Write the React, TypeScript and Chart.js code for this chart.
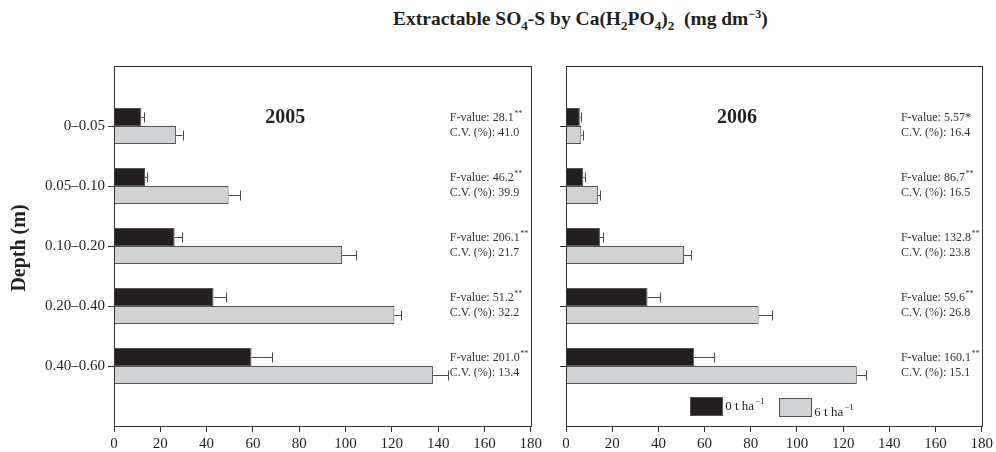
import React, { useEffect, useRef } from 'react';
import { Chart, registerables } from 'chart.js';

Chart.register(...registerables);

// ---------------- DATA ----------------
const categories = ['0\u20130.05', '0.05\u20130.10', '0.10\u20130.20', '0.20\u20130.40', '0.40\u20130.60'];
const xTicks = [0, 20, 40, 60, 80, 100, 120, 140, 160, 180];

const y2005_0t = [11.8, 13.4, 26.2, 43.0, 59.4];
const err2005_0t = [1.1, 0.7, 3.3, 5.5, 8.8];
const y2005_6t = [26.8, 49.5, 98.5, 121.1, 137.8];
const err2005_6t = [2.8, 4.9, 6.1, 2.9, 6.5];

const y2006_0t = [6.0, 7.5, 14.7, 35.3, 55.5];
const err2006_0t = [0.3, 0.6, 1.3, 5.6, 8.6];
const y2006_6t = [6.6, 13.9, 51.1, 83.4, 125.9];
const err2006_6t = [0.6, 0.9, 3.2, 5.9, 4.1];

const fValue2005 = ['28.1', '46.2', '206.1', '51.2', '201.0'];
const fSig2005 = ['**', '**', '**', '**', '**'];
const cv2005 = ['41.0', '39.9', '21.7', '32.2', '13.4'];

const fValue2006 = ['5.57*', '86.7', '132.8', '59.6', '160.1'];
const fSig2006 = ['', '**', '**', '**', '**'];
const cv2006 = ['16.4', '16.5', '23.8', '26.8', '15.1'];

const legendLabels = ['0 t ha', '6 t ha'];
const legendSup = '\u22121';

// ---------------- STYLE ----------------
const SERIF = "'Liberation Serif', 'Times New Roman', serif";
const BLACK = '#231f20';
const GRAY = '#d1d2d4';
const EDGE = '#555555';
const AXIS = '#333333';
const TEXT = '#231f20';

type PanelOpts = {
  year: string;
  zero: number[];
  zeroErr: number[];
  six: number[];
  sixErr: number[];
  fv: string[];
  fs: string[];
  cv: string[];
  showYLabels: boolean;
  showLegend: boolean;
  yAxisWidth: number;
  padRight: number;
};

const panelPlugin = {
  id: 'panelDeco',
  afterDatasetsDraw(chart: any, _args: any, o: any) {
    const ctx = chart.ctx as CanvasRenderingContext2D;
    const xs = chart.scales.x;
    const ys = chart.scales.y;
    const a = chart.chartArea;
    ctx.save();
    // error bars
    chart.data.datasets.forEach((ds: any, di: number) => {
      const meta = chart.getDatasetMeta(di);
      meta.data.forEach((bar: any, i: number) => {
        const v = ds.data[i].x;
        const e = ds.errors[i];
        const x0 = xs.getPixelForValue(v);
        const x1 = xs.getPixelForValue(v + e);
        const y = Math.round(bar.y) + 0.5;
        ctx.strokeStyle = '#4a4a4a';
        ctx.lineWidth = 1;
        ctx.beginPath();
        ctx.moveTo(x0, y);
        ctx.lineTo(x1, y);
        ctx.moveTo(Math.round(x1) + 0.5, y - 5);
        ctx.lineTo(Math.round(x1) + 0.5, y + 5);
        ctx.stroke();
      });
    });
    // box
    ctx.strokeStyle = AXIS;
    ctx.lineWidth = 1;
    ctx.strokeRect(Math.round(a.left) + 0.5, Math.round(a.top) + 0.5, Math.round(a.right - a.left), Math.round(a.bottom - a.top));

    // year
    ctx.fillStyle = TEXT;
    ctx.font = `bold 20px ${SERIF}`;
    ctx.textAlign = 'center';
    ctx.textBaseline = 'middle';
    ctx.fillText(o.year, xs.getPixelForValue(74), ys.getPixelForValue(0) - 8);

    // annotations
    ctx.textAlign = 'left';
    const ax = xs.getPixelForValue(145);
    o.fv.forEach((f: string, i: number) => {
      const yc = ys.getPixelForValue(i);
      ctx.font = `12px ${SERIF}`;
      ctx.fillStyle = '#333';
      const t1 = 'F-value: ' + f;
      ctx.fillText(t1, ax, yc - 8);
      if (o.fs[i]) {
        const w = ctx.measureText(t1).width;
        ctx.font = `8px ${SERIF}`;
        ctx.fillText(o.fs[i], ax + w + 0.5, yc - 12);
      }
      ctx.font = `12px ${SERIF}`;
      ctx.fillText('C.V. (%): ' + o.cv[i], ax, yc + 7);
    });

    // depth label
    if (o.showYLabels) {
      ctx.save();
      ctx.translate(20, 248);
      ctx.rotate(-Math.PI / 2);
      ctx.font = `bold 20px ${SERIF}`;
      ctx.fillStyle = TEXT;
      ctx.textAlign = 'center';
      ctx.textBaseline = 'middle';
      ctx.fillText('Depth (m)', 0, 0);
      ctx.restore();
    }

    // legend
    if (o.showLegend) {
      const boxes = [
        { x0: 53.8, x1: 67.4, y0: 4.51, y1: 4.82, fill: BLACK, tx: 68.9, ty: 4.68 },
        { x0: 92.1, x1: 106.0, y0: 4.54, y1: 4.83, fill: GRAY, tx: 107.5, ty: 4.77 },
      ];
      boxes.forEach((b, i) => {
        const px0 = Math.round(xs.getPixelForValue(b.x0)) + 0.5;
        const px1 = Math.round(xs.getPixelForValue(b.x1)) + 0.5;
        const py0 = Math.round(ys.getPixelForValue(b.y0)) + 0.5;
        const py1 = Math.round(ys.getPixelForValue(b.y1)) + 0.5;
        ctx.fillStyle = b.fill;
        ctx.fillRect(px0, py0, px1 - px0, py1 - py0);
        ctx.strokeStyle = EDGE;
        ctx.strokeRect(px0, py0, px1 - px0, py1 - py0);
        ctx.fillStyle = TEXT;
        ctx.font = `13px ${SERIF}`;
        ctx.textAlign = 'left';
        ctx.textBaseline = 'middle';
        const tx = xs.getPixelForValue(b.tx);
        const ty = ys.getPixelForValue(b.ty);
        ctx.fillText(legendLabels[i], tx, ty);
        const w = ctx.measureText(legendLabels[i]).width;
        ctx.font = `9px ${SERIF}`;
        ctx.fillText(legendSup, tx + w + 1, ty - 5);
      });
    }
    ctx.restore();
  },
};

function buildChart(canvas: HTMLCanvasElement, o: PanelOpts) {
  const toPts = (arr: number[]) => arr.map((v, i) => ({ x: v, y: i }));
  return new Chart(canvas, {
    type: 'bar',
    data: {
      datasets: [
        {
          label: '0 t ha-1',
          data: toPts(o.zero),
          errors: o.zeroErr,
          backgroundColor: BLACK,
          borderColor: EDGE,
          borderWidth: 1,
          categoryPercentage: 0.6,
          barPercentage: 1,
        } as any,
        {
          label: '6 t ha-1',
          data: toPts(o.six),
          errors: o.sixErr,
          backgroundColor: GRAY,
          borderColor: EDGE,
          borderWidth: 1,
          categoryPercentage: 0.6,
          barPercentage: 1,
        } as any,
      ],
    },
    options: {
      indexAxis: 'y',
      responsive: false,
      animation: false,
      layout: { padding: { top: 66, right: o.padRight, left: 0, bottom: 0 } },
      plugins: {
        legend: { display: false },
        tooltip: { enabled: false },
        panelDeco: o,
      } as any,
      scales: {
        x: {
          type: 'linear',
          min: 0,
          max: 180,
          afterBuildTicks: (s: any) => {
            s.ticks = xTicks.map((v) => ({ value: v }));
          },
          afterFit: (s: any) => {
            s.height = 26;
          },
          ticks: {
            font: { family: SERIF, size: 15 },
            color: TEXT,
            padding: 3,
            maxRotation: 0,
            callback: (v: any) => String(v),
          },
          grid: { drawOnChartArea: false, drawTicks: true, tickLength: 6, color: AXIS, offset: false },
          border: { display: true, color: AXIS },
        },
        y: {
          type: 'linear',
          min: -1,
          max: 5,
          reverse: true,
          offset: false,
          afterBuildTicks: (s: any) => {
            s.ticks = categories.map((_, i) => ({ value: i }));
          },
          afterFit: (s: any) => {
            s.width = o.yAxisWidth;
          },
          ticks: {
            display: o.showYLabels,
            font: { family: SERIF, size: 15 },
            color: TEXT,
            padding: 3,
            callback: (v: any) => categories[v] ?? '',
          },
          grid: { drawOnChartArea: false, drawTicks: true, tickLength: 6, color: AXIS, offset: false },
          border: { display: true, color: AXIS },
        },
      },
    } as any,
    plugins: [panelPlugin],
  });
}

function Panel({ left, width, opts }: { left: number; width: number; opts: PanelOpts }) {
  const ref = useRef<HTMLCanvasElement | null>(null);
  useEffect(() => {
    if (!ref.current) return;
    const c = buildChart(ref.current, opts);
    return () => c.destroy();
  }, []);
  return (
    <canvas
      ref={ref}
      width={width}
      height={452}
      style={{ position: 'absolute', left, top: 0, width, height: 452 }}
    />
  );
}

export default function App() {
  const sub = { fontSize: 13, verticalAlign: 'sub', lineHeight: 0 } as React.CSSProperties;
  const sup = { fontSize: 12, verticalAlign: 'super', lineHeight: 0 } as React.CSSProperties;
  return (
    <div style={{ position: 'absolute', left: 0, top: 0, width: 996, height: 452, background: '#fff', overflow: 'hidden' }}>
      <div
        style={{
          position: 'absolute',
          left: 393,
          top: 8,
          fontFamily: SERIF,
          fontWeight: 'bold',
          fontSize: 19.5,
          color: TEXT,
          whiteSpace: 'pre',
          lineHeight: '22px',
        }}
      >
        Extractable SO<span style={sub}>4</span>-S by Ca(H<span style={sub}>2</span>PO<span style={sub}>4</span>)
        <span style={sub}>2</span>{'  '}(mg dm<span style={sup}>{'\u22123'}</span>)
      </div>
      <Panel
        left={0}
        width={545}
        opts={{
          year: '2005',
          zero: y2005_0t,
          zeroErr: err2005_0t,
          six: y2005_6t,
          sixErr: err2005_6t,
          fv: fValue2005,
          fs: fSig2005,
          cv: cv2005,
          showYLabels: true,
          showLegend: false,
          yAxisWidth: 114,
          padRight: 14,
        }}
      />
      <Panel
        left={545}
        width={451}
        opts={{
          year: '2006',
          zero: y2006_0t,
          zeroErr: err2006_0t,
          six: y2006_6t,
          sixErr: err2006_6t,
          fv: fValue2006,
          fs: fSig2006,
          cv: cv2006,
          showYLabels: false,
          showLegend: true,
          yAxisWidth: 21,
          padRight: 12,
        }}
      />
    </div>
  );
}
